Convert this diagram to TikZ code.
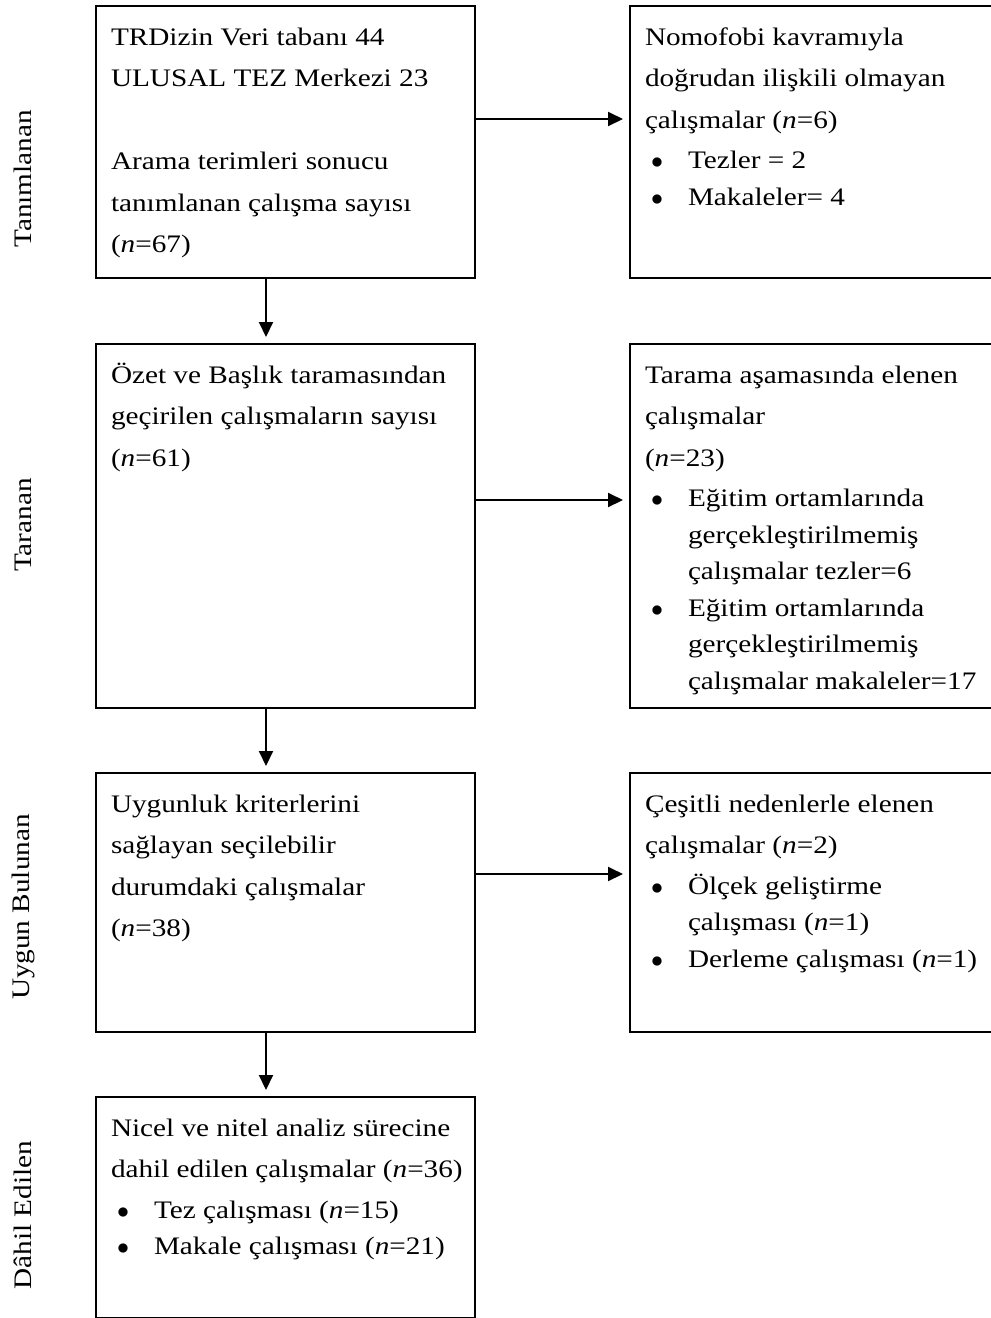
\documentclass[tikz,border=0pt]{standalone}
\usepackage{fontspec}
\setmainfont{Liberation Serif}[FakeStretch=1.16]
\usepackage{tikz}
\usetikzlibrary{arrows.meta}
\pgfdeclarelayer{edgelayer}
\pgfdeclarelayer{nodelayer}
\pgfsetlayers{edgelayer,nodelayer,main}
\tikzstyle{kutu}=[rectangle,draw=black,line width=1pt,inner sep=0pt,anchor=north west,font=\fontsize{12.6}{20.75}\selectfont]
\tikzstyle{evre}=[rotate=90,inner sep=0pt,font=\fontsize{12.6}{14}\selectfont]
\tikzstyle{okcizgi}=[-{Triangle[length=7.5pt,width=7pt]},line width=1pt,shorten >=3pt]
\newcommand{\yazi}[3]{\parbox[c][#2][t]{#1}{\raggedright\leftskip=7.5pt\rule{0pt}{19.5pt}#3}}
\newcommand{\madde}[1]{\par\hangindent=21.5pt\hangafter=1\noindent\makebox[21.5pt][l]{\hspace{3pt}$\bullet$}#1}
\newcommand{\maddebas}{\par\vspace{2pt}\baselineskip=18.25pt}
\begin{document}
\begin{tikzpicture}[x=0.5pt,y=-0.5pt]
	\useasboundingbox (0,0) rectangle (991,1318);
	\begin{pgfonlayer}{nodelayer}
		\node [style=kutu] (k1) at (95,5) {\yazi{189.5pt}{136pt}{TRDizin Veri tabanı 44\\ ULUSAL TEZ Merkezi 23\\[20.75pt] Arama terimleri sonucu\\ tanımlanan çalışma sayısı\\ (\textit{n}=67)}};
		\node [style=kutu] (k2) at (629,5) {\yazi{200pt}{136pt}{Nomofobi kavramıyla\\ doğrudan ilişkili olmayan\\ çalışmalar (\textit{n}=6)\maddebas\madde{Tezler = 2}\madde{Makaleler= 4}}};

		\node [style=kutu] (k3) at (95,343) {\yazi{189.5pt}{182pt}{Özet ve Başlık taramasından\\ geçirilen çalışmaların sayısı\\ (\textit{n}=61)}};
		\node [style=kutu] (k4) at (629,343) {\yazi{200pt}{182pt}{Tarama aşamasında elenen\\ çalışmalar\\ (\textit{n}=23)\maddebas\madde{Eğitim ortamlarında\newline gerçekleştirilmemiş\newline çalışmalar tezler=6}\madde{Eğitim ortamlarında\newline gerçekleştirilmemiş\newline çalışmalar makaleler=17}}};

		\node [style=kutu] (k5) at (95,772) {\yazi{189.5pt}{129.5pt}{Uygunluk kriterlerini\\ sağlayan seçilebilir\\ durumdaki çalışmalar\\ (\textit{n}=38)}};
		\node [style=kutu] (k6) at (629,772) {\yazi{200pt}{129.5pt}{Çeşitli nedenlerle elenen\\ çalışmalar (\textit{n}=2)\maddebas\madde{Ölçek geliştirme\newline çalışması (\textit{n}=1)}\madde{Derleme çalışması (\textit{n}=1)}}};

		\node [style=kutu] (k7) at (95,1096) {\yazi{189.5pt}{110.5pt}{Nicel ve nitel analiz sürecine\\ dahil edilen çalışmalar (\textit{n}=36)\maddebas\madde{Tez çalışması (\textit{n}=15)}\madde{Makale çalışması (\textit{n}=21)}}};

		\node [style=evre] (e1) at (23,179) {Tanımlanan};
		\node [style=evre] (e2) at (23,525) {Taranan};
		\node [style=evre] (e3) at (23,907) {Uygun Bulunan};
		\node [style=evre] (e4) at (23,1215) {Dâhil Edilen};
	\end{pgfonlayer}
	\begin{pgfonlayer}{edgelayer}
		\draw [style=okcizgi] ([yshift=11.5pt]k1.east) to ([yshift=11.5pt]k1.east -| k2.west);
		\draw [style=okcizgi] ([yshift=13pt]k3.east) to ([yshift=13pt]k3.east -| k4.west);
		\draw [style=okcizgi] ([yshift=14.25pt]k5.east) to ([yshift=14.25pt]k5.east -| k6.west);
		\draw [style=okcizgi] ([xshift=-9.75pt]k1.south) to ([xshift=-9.75pt]k3.north);
		\draw [style=okcizgi] ([xshift=-9.75pt]k3.south) to ([xshift=-9.75pt]k5.north);
		\draw [style=okcizgi] ([xshift=-9.75pt]k5.south) to ([xshift=-9.75pt]k7.north);
	\end{pgfonlayer}
\end{tikzpicture}
\end{document}
